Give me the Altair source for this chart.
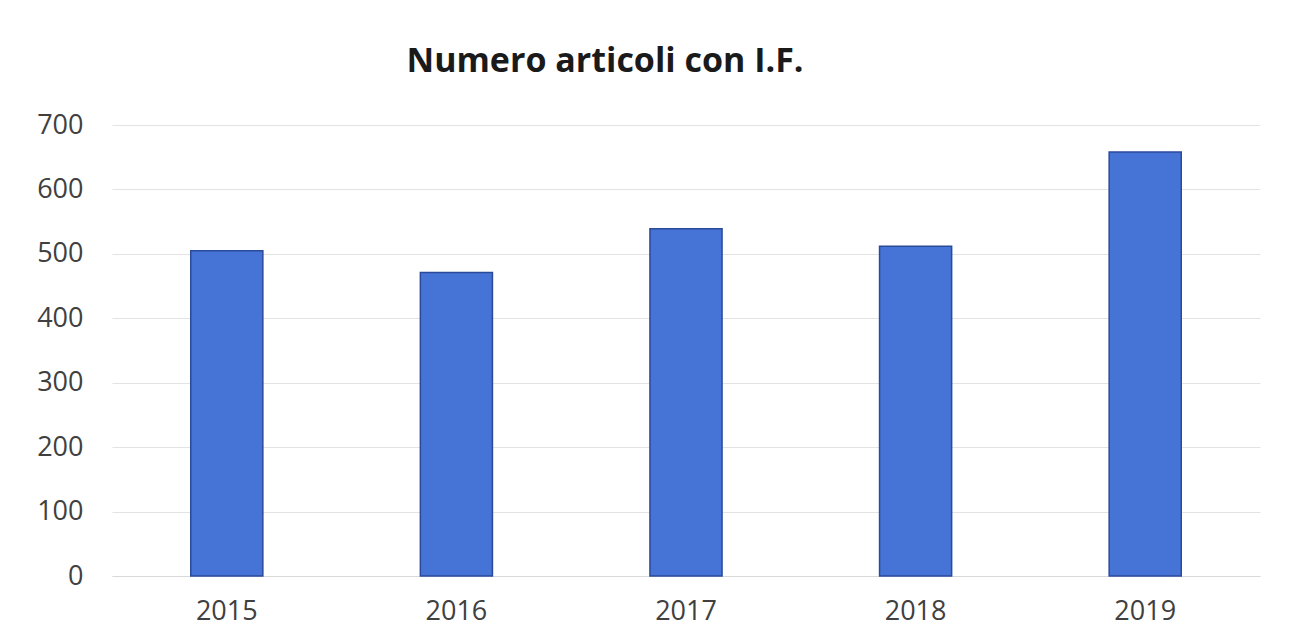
import altair as alt
import pandas as pd

years = ["2015", "2016", "2017", "2018", "2019"]
values = [505, 471, 539, 512, 658]
y_ticks = [0, 100, 200, 300, 400, 500, 600, 700]

df = pd.DataFrame({"anno": years, "articoli": values})

chart = alt.Chart(df).mark_bar(
    color="#4673d6", stroke="#2a4a9a", strokeWidth=1.5
).encode(
    x=alt.X("anno:N", sort=years, title=None,
            scale=alt.Scale(paddingInner=0.686, paddingOuter=0.343),
            axis=alt.Axis(labelAngle=0, labelFontSize=27, labelFont="Open Sans",
                          labelColor="#404040", labelPadding=22, ticks=False,
                          domain=True, domainColor="#d9d9d9", domainWidth=1)),
    y=alt.Y("articoli:Q", title=None,
            scale=alt.Scale(domain=[0, 700], nice=False),
            axis=alt.Axis(values=y_ticks, labelFontSize=27, labelFont="Open Sans",
                          labelColor="#404040", labelPadding=29, ticks=False,
                          domain=False, gridColor="#e3e3e3", gridWidth=1)),
).properties(
    width=1148, height=451,
    background="white",
    autosize=alt.AutoSizeParams(type="none"),
    padding={"left": 104, "top": 117, "right": 28, "bottom": 56},
    title=alt.TitleParams("Numero articoli con I.F.", fontSize=34, font="Open Sans",
                          fontWeight="bold", color="#1a1a1a", anchor="middle",
                          dx=-81, offset=5, baseline="alphabetic"),
).configure_view(stroke=None)

chart.save("out.html", embed_options={"renderer": "svg", "actions": False})
